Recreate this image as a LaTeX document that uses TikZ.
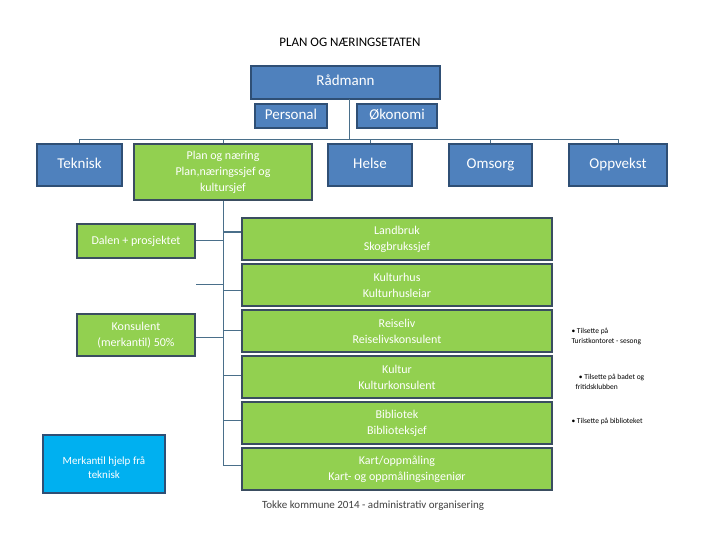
\documentclass[tikz,border=0pt]{standalone}
\usepackage{fontspec}
\setmainfont{Carlito}
\definecolor{bl}{HTML}{4F81BD}
\definecolor{bld}{HTML}{2F4F75}
\definecolor{gr}{HTML}{92D050}
\definecolor{grd}{HTML}{3A4D60}
\definecolor{cy}{HTML}{00B0F0}
\definecolor{ln}{HTML}{4A6F8A}
\begin{document}
\begin{tikzpicture}[x=1pt,y=-1pt,
 box/.style={draw, line width=2pt, text=white, align=center, inner sep=1pt, font=\fontsize{15}{17}\selectfont},
 bb/.style={box, fill=bl, draw=bld},
 gb/.style={box, fill=gr, draw=grd, font=\fontsize{12}{16}\selectfont},
 cb/.style={box, fill=cy, draw=bld, font=\fontsize{11}{14}\selectfont},
 ln/.style={draw=ln, line width=1pt},
 note/.style={align=left, font=\fontsize{7.5}{10}\selectfont, anchor=west}]
\useasboundingbox (0,0) rectangle (720,540);
\node[font=\fontsize{13}{15}\selectfont] (t) at (350,42) {PLAN OG NÆRINGSETATEN};
\newcommand{\bx}[6]{\node[#1, minimum width=#4-#2, minimum height=#5-#3] (#6) at ({(#2+#4)/2},{(#3+#5)/2})}
\bx{bb}{251}{66}{440}{99}{rad} {Rådmann\strut};
\bx{bb}{255}{104}{327}{128}{pers} {Personal\strut};
\bx{bb}{357}{104}{437}{128}{oko} {Økonomi\strut};
\bx{bb}{37}{144}{122}{186}{tek} {Teknisk\strut};
\bx{gb}{134}{144}{312}{200}{plan} {Plan og næring\\Plan,næringssjef og\\kultursjef};
\bx{bb}{328}{144}{412}{186}{hel} {Helse\strut};
\bx{bb}{449}{144}{532}{186}{oms} {Omsorg\strut};
\bx{bb}{569}{144}{667}{186}{opp} {Oppvekst\strut};
\bx{gb}{77}{224}{195}{258}{dal} {Dalen + prosjektet};
\bx{gb}{77}{314}{195}{356}{kon} {Konsulent\\(merkantil) 50\%};
\node[cb, minimum width=122, minimum height=58, anchor=north west, text height=30pt] (mer) at (42,434) {Merkantil hjelp frå\\teknisk};
\bx{gb}{242}{218}{552}{260}{lan} {Landbruk\\Skogbrukssjef};
\bx{gb}{242}{264}{552}{306}{kh} {Kulturhus\\Kulturhusleiar};
\bx{gb}{242}{310}{552}{352}{rei} {Reiseliv\\Reiselivskonsulent};
\bx{gb}{242}{356}{552}{398}{kul} {Kultur\\Kulturkonsulent};
\bx{gb}{242}{402}{552}{444}{bib} {Bibliotek\\Biblioteksjef};
\bx{gb}{242}{448}{552}{490}{kart} {Kart/oppmåling\\Kart- og oppmålingsingeniør};
\node[note] (n1) at (568,336) {• Tilsette på\\Turistkontoret - sesong};
\node[note] (n2) at (572,382) {\ \ • Tilsette på badet og\\fritidsklubben};
\node[note] (n3) at (568,421) {• Tilsette på biblioteket};
\node[font=\fontsize{11}{13}\selectfont, text=black!75] (f) at (373,506) {Tokke kommune 2014 - administrativ organisering};
% connectors
\coordinate (h) at (349,140);
\draw[ln] (349,99) -- (h);
\draw[ln] (tek.north) -- (tek.north |- h) -- (opp.north |- h) -- (opp.north);
\foreach \n in {plan,hel,oms} \draw[ln] (\n.north) -- (\n.north |- h);
\coordinate (v) at (223,465);
\draw[ln] (plan.south) -- (v);
\foreach \n/\y in {lan/232,kh/290,rei/330,kul/375,bib/420,kart/465} \draw[ln] (223,\y) -- (\n.west |- 0,\y);
\draw[ln] (dal.east |- 0,240) -- (223,240);
\draw[ln] (kon.east |- 0,337) -- (223,337);
\draw[ln] (196,284) -- (223,284);
\end{tikzpicture}
\end{document}
